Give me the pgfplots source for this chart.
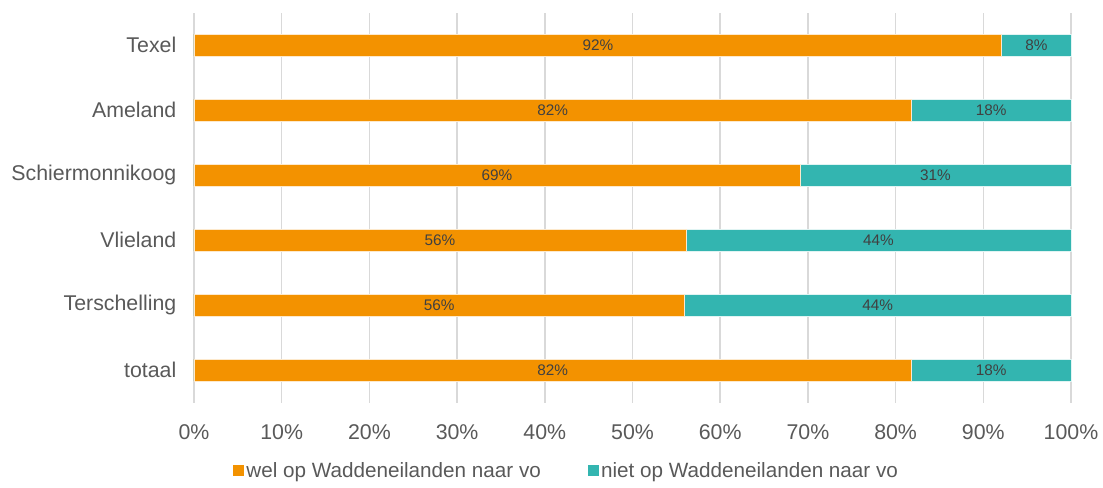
\documentclass[border=0pt]{standalone}
\usepackage{pgfplots}
\pgfplotsset{compat=1.18}
\usepackage{pgfplotstable}
\usepackage{fontspec}
\setmainfont{Liberation Sans}
\definecolor{orangeC}{HTML}{F39200}
\definecolor{tealC}{HTML}{33B5B0}
\definecolor{gridC}{HTML}{D9D9D9}
\definecolor{tickC}{HTML}{595959}
\definecolor{labC}{HTML}{404040}
\pgfplotstableread{
y wel niet
0 81.8 18.2
1 55.9 44.1
2 56.1 43.9
3 69.1 30.9
4 81.8 18.2
5 92.1 7.9
}\datatab
\begin{document}
\begin{tikzpicture}
\useasboundingbox (-145.5pt,-64.1pt) rectangle (681.75pt,301.9pt);
\begin{axis}[
  scale only axis,
  width=657.75pt, height=292.5pt,
  xmin=0, xmax=100, ymin=-0.5, ymax=5.5,
  xtick={0,10,...,100},
  xticklabels={0\%,10\%,20\%,30\%,40\%,50\%,60\%,70\%,80\%,90\%,100\%},
  ytick={0,...,5},
  yticklabels={totaal,Terschelling,Vlieland,Schiermonnikoog,Ameland,Texel},
  major tick length=0pt,
  xmajorgrids,
  grid style={gridC, line width=1.1pt},
  axis line style={draw=none},
  tick label style={font=\fontsize{16}{19}\selectfont, text=tickC},
  xticklabel style={yshift=-12.75pt},
  yticklabel style={xshift=-9.75pt},
  legend style={at={(0.425,-0.175)}, anchor=center, draw=none, fill=none,
    legend columns=2, font=\fontsize{15.5}{18}\selectfont, text=tickC,
    /tikz/every even column/.append style={column sep=33pt}},
  legend image code/.code={\fill[#1, draw=none] (0pt,-4.1pt) rectangle (8.2pt,4.1pt);},
  clip=false,
]
\addplot[xbar, bar width=16.5pt, bar shift=0pt, fill=tealC, draw=white!85!tealC, line width=0.4pt, forget plot]
  table[x expr=\thisrow{wel}+\thisrow{niet}, y=y] {\datatab};
\addplot[xbar, bar width=16.5pt, bar shift=0pt, fill=orangeC, draw=white!80!orangeC, line width=0.4pt, forget plot]
  table[x=wel, y=y] {\datatab};
\addplot[draw=none, mark=none, forget plot, point meta=explicit,
  nodes near coords={\pgfmathprintnumber[fixed,precision=0,assume math mode=true]{\pgfplotspointmeta}\%},
  every node near coord/.style={anchor=center, font=\fontsize{11.5}{13}\selectfont, text=labC}]
  table[x expr=\thisrow{wel}/2, y=y, meta=wel] {\datatab};
\addplot[draw=none, mark=none, forget plot, point meta=explicit,
  nodes near coords={\pgfmathprintnumber[fixed,precision=0,assume math mode=true]{\pgfplotspointmeta}\%},
  every node near coord/.style={anchor=center, font=\fontsize{11.5}{13}\selectfont, text=labC}]
  table[x expr=\thisrow{wel}+\thisrow{niet}/2, y=y, meta=niet] {\datatab};
\addlegendimage{fill=orangeC}
\addlegendentry{wel op Waddeneilanden naar vo}
\addlegendimage{fill=tealC}
\addlegendentry{niet op Waddeneilanden naar vo}
\end{axis}
\end{tikzpicture}
\end{document}
